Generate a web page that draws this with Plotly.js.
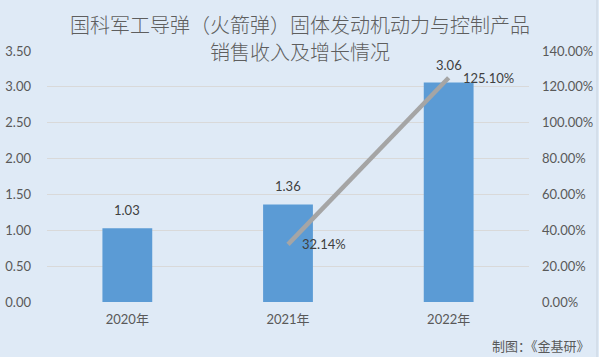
<!DOCTYPE html>
<html>
<head>
<meta charset="utf-8">
<script src="https://cdn.plot.ly/plotly-3.0.1.min.js"></script>
<style>html,body{margin:0;padding:0;background:#dfeaf6;}#chart{width:599px;height:357px;}</style>
</head>
<body>
<div id="chart"></div>
<script>
const categories = ['2020年', '2021年', '2022年'];
const revenue = [1.03, 1.36, 3.06];
const growth = [null, 32.14, 125.10];
const leftTicks = [0, 0.5, 1, 1.5, 2, 2.5, 3, 3.5];
const rightTicks = [0, 20, 40, 60, 80, 100, 120, 140];
const titleLines = ['国科军工导弹（火箭弹）固体发动机动力与控制产品', '销售收入及增长情况'];
const sourceText = '制图：《金基研》';

const FONT = "Lato, 'Noto Sans CJK SC', sans-serif";
const CJK = "'Noto Sans CJK SC', sans-serif";
const TXT = '#595959';

const L = 47, R = 70, T = 51, B = 55;
const plotW = 599 - L - R, plotH = 357 - T - B;
const px = x => (x - L) / plotW;
const py = y => (357 - B - y) / plotH;

const annotations = [];
categories.forEach((c, i) => {
  annotations.push({x: c, y: revenue[i], xref: 'x', yref: 'y', text: revenue[i].toFixed(2),
    showarrow: false, yanchor: 'bottom', yshift: 8, font: {family: FONT, size: 13, color: '#404040'}});
  if (growth[i] !== null) {
    annotations.push({x: c, y: growth[i], xref: 'x', yref: 'y2', text: growth[i].toFixed(2) + '%',
      showarrow: false, xanchor: 'left', xshift: 12, yanchor: 'middle', font: {family: FONT, size: 13, color: '#404040'}});
  }
});
annotations.push({x: px(299.5), y: py(24), xref: 'paper', yref: 'paper', text: titleLines[0], showarrow: false,
  xanchor: 'center', yanchor: 'middle', font: {family: CJK, size: 20, color: '#5e5e5e', weight: 300}});
annotations.push({x: px(299.5), y: py(51), xref: 'paper', yref: 'paper', text: titleLines[1], showarrow: false,
  xanchor: 'center', yanchor: 'middle', font: {family: CJK, size: 20, color: '#5e5e5e', weight: 300}});
annotations.push({x: px(592), y: py(345), xref: 'paper', yref: 'paper', text: sourceText, showarrow: false,
  xanchor: 'right', yanchor: 'middle', font: {family: CJK, size: 13, color: TXT}});

const traces = [
  {type: 'bar', x: categories, y: revenue, width: 0.31, marker: {color: '#5b9bd5'}, hoverinfo: 'none', cliponaxis: false},
  {type: 'scatter', mode: 'lines', x: categories, y: growth, yaxis: 'y2',
   line: {color: '#a5a5a5', width: 4.5}, connectgaps: false, hoverinfo: 'none'}
];

const layout = {
  width: 599, height: 357,
  margin: {l: L, r: R, t: T, b: B, pad: 0},
  paper_bgcolor: '#dfeaf6', plot_bgcolor: '#dfeaf6',
  showlegend: false,
  font: {family: FONT, size: 13, color: TXT},
  xaxis: {type: 'category', showgrid: false, zeroline: false, showline: false, ticks: '',
          ticklabelstandoff: 8, tickfont: {family: FONT, size: 13, color: TXT}},
  yaxis: {range: [0, 3.5], tickvals: leftTicks, ticktext: leftTicks.map(v => v.toFixed(2)),
          showgrid: true, gridcolor: '#d9d9d9', gridwidth: 1,
          zeroline: false, showline: false, ticks: '', ticklabelstandoff: 15, tickfont: {family: FONT, size: 13, color: TXT}},
  yaxis2: {range: [0, 140], tickvals: rightTicks, ticktext: rightTicks.map(v => v.toFixed(2) + '%'),
           overlaying: 'y', side: 'right',
           showgrid: false, zeroline: false, showline: false, ticks: '', ticklabelstandoff: 12,
           tickfont: {family: FONT, size: 13, color: TXT}},
  annotations: annotations,
  shapes: [{type: 'line', xref: 'paper', yref: 'paper', x0: px(597), x1: px(597), y0: py(357), y1: py(0),
            line: {color: '#c9d3de', width: 1}}]
};

Plotly.newPlot('chart', traces, layout, {staticPlot: true, displayModeBar: false});
</script>
</body>
</html>
